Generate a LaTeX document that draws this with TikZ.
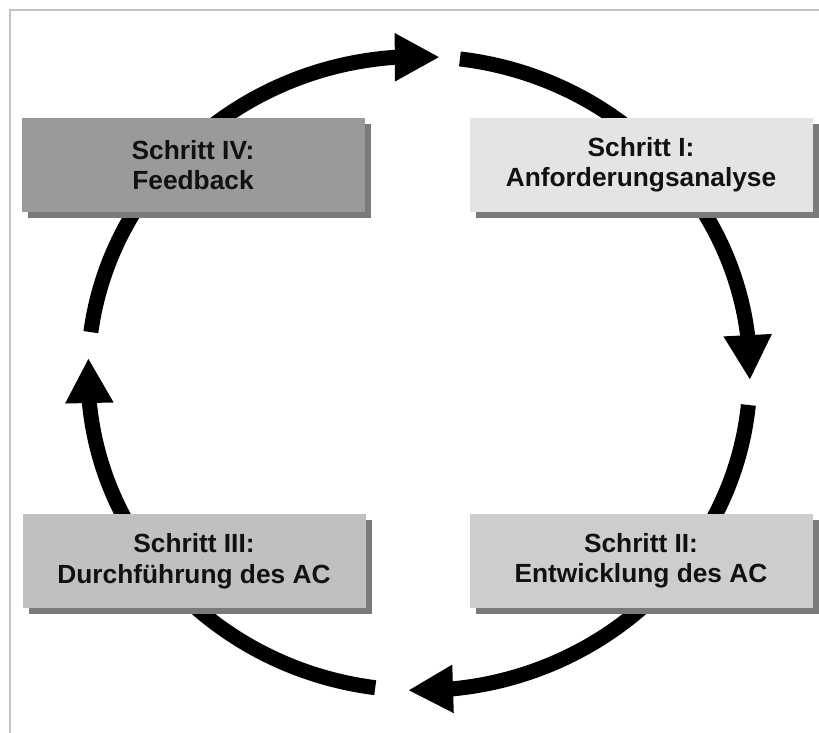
\documentclass[tikz,border=0pt]{standalone}
\usepackage{fontspec}
\setmainfont{Liberation Sans}
\usetikzlibrary{arrows.meta,bending,calc}
\definecolor{frameline}{HTML}{C4C4C4}
\definecolor{boxone}{HTML}{E4E4E4}
\definecolor{boxtwo}{HTML}{CDCDCD}
\definecolor{boxthree}{HTML}{C0C0C0}
\definecolor{boxfour}{HTML}{9A9A9A}
\definecolor{shadowcol}{HTML}{7A7A7A}
\definecolor{textcol}{HTML}{111111}
\begin{document}
\begin{tikzpicture}[x=1pt,y=1pt,
  stepbox/.style={minimum width=343pt, minimum height=94pt, inner sep=0pt,
    align=center, text=textcol, font=\bfseries\fontsize{26.3}{30.5}\selectfont},
  cyc/.style={line width=15pt, draw=black, -{Triangle[length=45pt,width=45pt,flex]}},
  shadowfill/.style={fill=shadowcol}]
\useasboundingbox (0,0) rectangle (819,733);
\fill[white] (0,0) rectangle (819,733);
\draw[line width=2pt, frameline] (10,0) -- (10,723) -- (819,723);
% cycle arcs
\coordinate (c) at (419,359.5);
\coordinate (s1) at ($(c)+(82.9:331 and 317)$);
\coordinate (s2) at ($(c)+(-5.7:331 and 317)$);
\coordinate (s3) at ($(c)+(-97.6:331 and 317)$);
\coordinate (s4) at ($(c)+(172.5:331 and 317)$);
\draw[cyc] (s1) arc[start angle=82.9, end angle=-1.2, x radius=331, y radius=317];
\draw[cyc] (s2) arc[start angle=-5.7, end angle=-91.9, x radius=331, y radius=317];
\draw[cyc] (s3) arc[start angle=-97.6, end angle=-182.8, x radius=331, y radius=317];
\draw[cyc] (s4) arc[start angle=172.5, end angle=86.4, x radius=331, y radius=317];
% boxes
\foreach \p in {(199,562),(647,562),(200,165.5),(647,166)}
  \fill[shadowfill] \p ++(-171.5,-47) rectangle ++(343,94);
\node[stepbox, fill=boxfour] (s4box) at (193,568) {Schritt IV:\\Feedback};
\node[stepbox, fill=boxone] (s1box) at (641,568) {Schritt I:\\Anforderungsanalyse};
\node[stepbox, fill=boxthree] (s3box) at (194,171.5) {Schritt III:\\Durchführung des AC};
\node[stepbox, fill=boxtwo] (s2box) at (641,172) {Schritt II:\\Entwicklung des AC};
\end{tikzpicture}
\end{document}
